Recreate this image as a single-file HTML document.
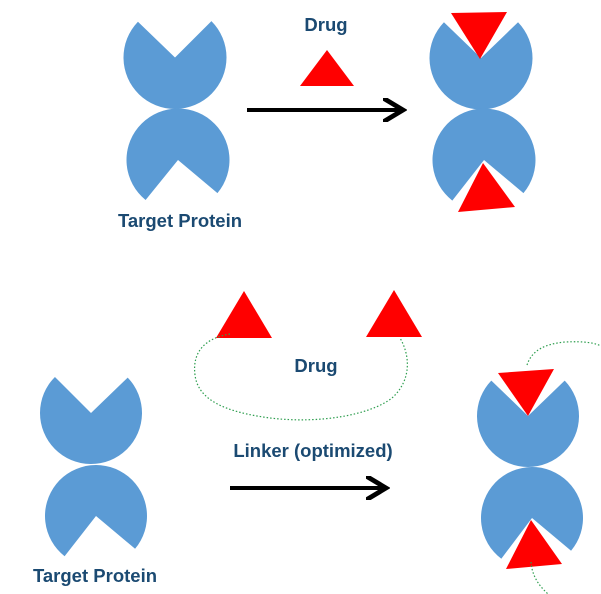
<!DOCTYPE html>
<html><head><meta charset="utf-8"><style>
html,body{margin:0;padding:0;background:#fff;}
svg{display:block;}
text{font-family:"Liberation Sans",Arial,sans-serif;font-weight:bold;font-size:18.5px;fill:#1b4a72;}
</style></head><body>
<svg width="601" height="594" viewBox="0 0 601 594">
<defs>
<marker id="ah" markerWidth="6" markerHeight="6" refX="5" refY="3" orient="auto" markerUnits="strokeWidth">
<path d="M0,0 L5,3 L0,6" fill="none" stroke="#000" stroke-width="1.2"/>
</marker>
</defs>
<g id="shapes"></g>
<line x1="247" y1="110" x2="403" y2="110" stroke="#000" stroke-width="4" marker-end="url(#ah)"/>
<line x1="230" y1="488" x2="386" y2="488" stroke="#000" stroke-width="4" marker-end="url(#ah)"/>
<path d="M230,334 C205,338 192,352 195,375 C198,400 225,412 270,418 C320,424 370,415 392,398 C412,380 410,355 400,338" fill="none" stroke="#2e9e4f" stroke-width="1.2" stroke-dasharray="1.5,2"/>
<path d="M527,365 C532,350 545,344 565,342 C585,341 595,343 601,346" fill="none" stroke="#2e9e4f" stroke-width="1.2" stroke-dasharray="1.5,2"/>
<path d="M531,562 C532,575 538,585 548,594" fill="none" stroke="#2e9e4f" stroke-width="1.2" stroke-dasharray="1.5,2"/>
<text x="326" y="31" text-anchor="middle">Drug</text>
<text x="180" y="227" text-anchor="middle">Target Protein</text>
<text x="316" y="372" text-anchor="middle">Drug</text>
<text x="313" y="457" text-anchor="middle">Linker (optimized)</text>
<text x="95" y="582" text-anchor="middle">Target Protein</text>
</svg>
<script>
const g=document.getElementById('shapes');
const NS='http://www.w3.org/2000/svg';
function pac(cx,cy,r,a1,a2,name){
  const A=a1*Math.PI/180,B=a2*Math.PI/180;
  const x1=cx+r*Math.cos(A), y1=cy+r*Math.sin(A);
  const x2=cx+r*Math.cos(B), y2=cy+r*Math.sin(B);
  const p=document.createElementNS(NS,'path');
  p.setAttribute('d',`M${cx},${cy} L${x1},${y1} A${r},${r} 0 1 1 ${x2},${y2} Z`);
  p.setAttribute('fill','#5b9bd5');
  
  
  g.appendChild(p);
}
function tri(pts,name){
  const p=document.createElementNS(NS,'polygon');
  p.setAttribute('points',pts);
  p.setAttribute('fill','#ff0000');
  
  
  g.appendChild(p);
}
// upper: mouth up from angle -45 (right) sweeping clockwise round to -136 (left)
pac(175,57.5,51.5,-45,-136,'protein-top-left-upper');
pac(178,160,51.5,129,40,'protein-top-left-lower');
pac(481,58,51.5,-44,-136,'protein-top-right-upper');
pac(484,160,51.5,128,40,'protein-top-right-lower');
pac(91,413,51,-44,-135,'protein-bottom-left-upper');
pac(96,516,51,128,40,'protein-bottom-left-lower');
pac(528,416,51,-44,-136,'protein-bottom-right-upper');
pac(532,518,51,127,40,'protein-bottom-right-lower');
tri('300,86 354,86 327,50','drug-triangle-top');
tri('451,13 507,12 480,59','drug-bound-top-upper');
tri('458,212 515,207 483,163','drug-bound-top-lower');
tri('216,338 272,338 244,291','drug-triangle-left');
tri('366,337 422,337 394,290','drug-triangle-right');
tri('498,373 554,369 528,416','drug-bound-bottom-upper');
tri('506,569 562,564 531,520','drug-bound-bottom-lower');
</script>
</body></html>
